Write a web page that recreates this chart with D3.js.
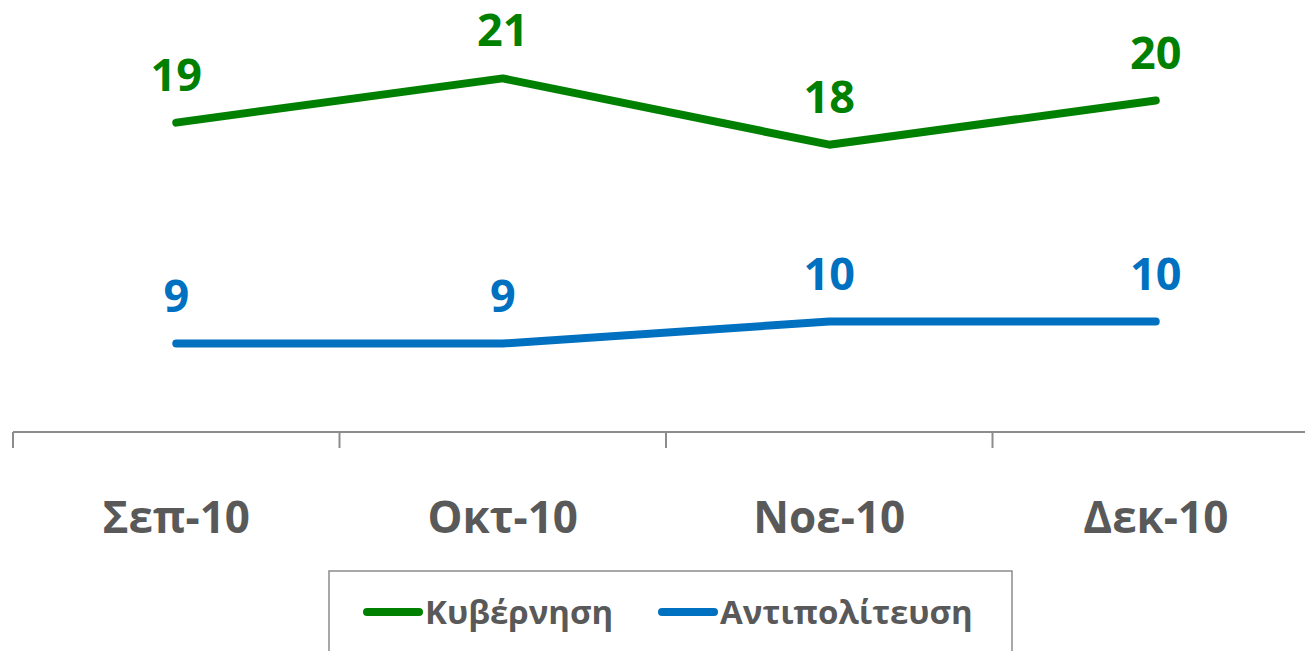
<!DOCTYPE html>
<html>
  <head>
    <meta charset="UTF-8">
    <title>Κυβέρνηση - Αντιπολίτευση</title>
    <style>
      body { margin: 0; background: #fff; }
      svg text { font-family: 'Open Sans', 'Noto Sans', sans-serif; }
    </style>
  </head>
  <body>
    <div id='chart'></div>
    <script src='https://d3js.org/d3.v7.min.js'></script>
    <script>
      const months = ['Σεπ-10', 'Οκτ-10', 'Νοε-10', 'Δεκ-10'];
      const government = [19, 21, 18, 20];
      const opposition = [9, 9, 10, 10];
      const seriesNames = ['Κυβέρνηση', 'Αντιπολίτευση'];
      const seriesColors = ['#008000', '#0070c0'];

      const width = 1305;
      const height = 651;

      const svg = d3.select('#chart')
        .append('svg')
        .attr('width', width)
        .attr('height', height);

      const x = d3.scaleBand()
        .domain(months)
        .range([13, 1319]);

      const y = d3.scaleLinear()
        .domain([5, 25])
        .range([432, -10]);

      // axis: line plus ticks between categories
      const axis = svg.append('g')
        .attr('transform', 'translate(0,432)')
        .call(d3.axisBottom(x).tickSize(0).tickFormat(''));
      axis.select('.domain').remove();
      axis.append('line')
        .attr('x1', 13).attr('x2', width)
        .attr('stroke', '#8c8c8c').attr('stroke-width', 2);
      axis.selectAll('.sep')
        .data(months)
        .enter().append('line')
        .attr('class', 'sep')
        .attr('x1', (d) => x(d)).attr('x2', (d) => x(d))
        .attr('y1', 0).attr('y2', 16)
        .attr('stroke', '#8c8c8c').attr('stroke-width', 2);

      svg.append('g')
        .selectAll('text')
        .data(months)
        .enter().append('text')
        .attr('x', (d) => x(d) + x.bandwidth() / 2)
        .attr('y', 533)
        .attr('text-anchor', 'middle')
        .attr('font-size', 44)
        .attr('font-weight', 'bold')
        .attr('fill', '#595959')
        .text((d) => d);

      const line = d3.line()
        .x((d, i) => x(months[i]) + x.bandwidth() / 2)
        .y((d) => y(d));

      [government, opposition].forEach((values, k) => {
        svg.append('path')
          .datum(values)
          .attr('fill', 'none')
          .attr('stroke', seriesColors[k])
          .attr('stroke-width', 8)
          .attr('stroke-linecap', 'round')
          .attr('stroke-linejoin', 'round')
          .attr('d', line);

        svg.append('g')
          .selectAll('text')
          .data(values)
          .enter().append('text')
          .attr('x', (d, i) => x(months[i]) + x.bandwidth() / 2)
          .attr('y', (d) => y(d) - 32)
          .attr('text-anchor', 'middle')
          .attr('font-size', 45)
          .attr('font-weight', 'bold')
          .attr('fill', seriesColors[k])
          .text((d) => d);
      });

      // legend
      const legend = svg.append('g');
      legend.append('rect')
        .attr('x', 329).attr('y', 571)
        .attr('width', 683).attr('height', 90)
        .attr('fill', 'none')
        .attr('stroke', '#8c8c8c').attr('stroke-width', 1.5);

      const legendX = [367, 662];
      seriesNames.forEach((name, k) => {
        legend.append('line')
          .attr('x1', legendX[k]).attr('x2', legendX[k] + 52)
          .attr('y1', 612).attr('y2', 612)
          .attr('stroke', seriesColors[k])
          .attr('stroke-width', 8)
          .attr('stroke-linecap', 'round');
        legend.append('text')
          .attr('x', legendX[k] + 58)
          .attr('y', 624)
          .attr('font-size', 33)
          .attr('font-weight', 'bold')
          .attr('fill', '#595959')
          .text(name);
      });
    </script>
  </body>
</html>
